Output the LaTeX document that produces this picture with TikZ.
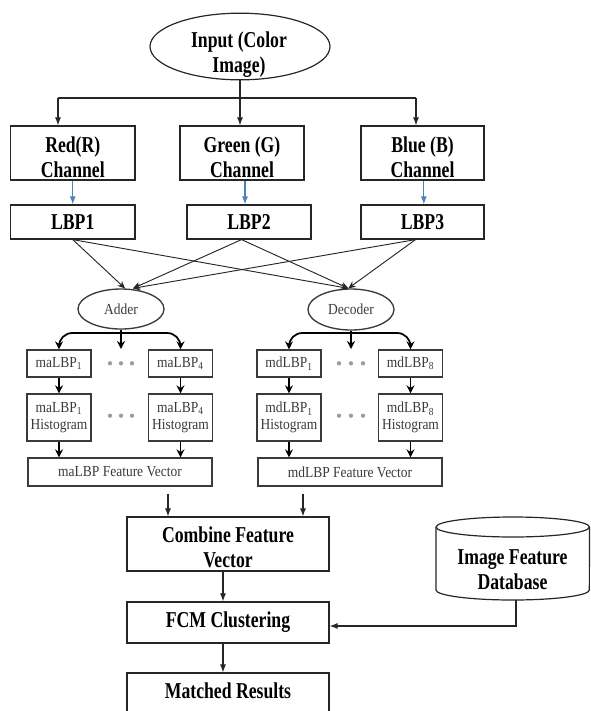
\documentclass[tikz,border=0pt]{standalone}
\usepackage{fontspec}
\setmainfont{Liberation Serif}
\newfontfamily\condbold[FakeStretch=0.78]{Liberation Serif}
\newfontfamily\condreg[FakeStretch=0.88]{Liberation Serif}
\usetikzlibrary{arrows.meta,shapes.geometric}

\definecolor{linkblue}{HTML}{4F81BD}
\definecolor{dotgray}{HTML}{9C9C9C}
\definecolor{ink}{HTML}{262626}
\definecolor{softink}{HTML}{3A3A3A}

\tikzset{
  bfont/.style={font=\condbold\bfseries\fontsize{17}{18.75}\selectfont},
  rfont/.style={font=\condreg\fontsize{11.5}{12.75}\selectfont, text=softink},
  topbox/.style={draw=ink, line width=0.9pt, rectangle, inner sep=0pt,
    minimum height=40.5pt},
  lbpbox/.style={topbox, minimum height=25.5pt, bfont},
  lowbox/.style={topbox, minimum width=151.5pt, bfont},
  btxt/.style={bfont, align=center, inner sep=0pt},
  oval/.style={draw=softink, line width=1pt, ellipse, inner sep=0pt,
    minimum width=64.5pt, minimum height=30pt, rfont},
  smallbox/.style={draw=softink, line width=1pt, rectangle, inner sep=0pt,
    minimum width=48pt, minimum height=20.25pt, rfont},
  histbox/.style={smallbox, minimum height=35.25pt, align=center},
  fvbox/.style={smallbox, minimum width=138pt, minimum height=21pt},
  ln/.style={draw=ink, line width=0.8pt},
  arr/.style={ln, -{Latex[length=6pt,width=4.5pt]}},
  barr/.style={draw=linkblue, line width=0.8pt, -{Latex[length=6pt,width=4.5pt]}},
  xarr/.style={draw=ink, line width=0.7pt, -{Stealth[length=5.5pt,width=5pt]}},
  br/.style={draw=black, line width=1.3pt, -{Stealth[length=6pt,width=6pt]}},
  dot/.style={fill=dotgray},
}

\begin{document}
\begin{tikzpicture}[x=0.75pt, y=-0.75pt]
\useasboundingbox (0,0) rectangle (590,711);
\clip (0,0) rectangle (590,711);

% ---- input and colour channels
\node[draw=ink, line width=0.9pt, ellipse, inner sep=0pt,
      minimum width=135pt, minimum height=50pt] (input) at (240,46.5) {};
\node[btxt] (inputt) at (239,55) {Input (Color\\Image)};

\node[topbox, minimum width=93.4pt] (red) at (72.75,153) {};
\node[btxt] (redt) at (72.75,157.6) {Red(R)\\Channel};
\node[topbox, minimum width=93pt] (green) at (242,153) {};
\node[btxt] (greent) at (242,157.6) {Green (G)\\Channel};
\node[topbox, minimum width=92.25pt] (blue) at (422.5,153) {};
\node[btxt] (bluet) at (422.5,157.6) {Blue (B)\\Channel};

\node[lbpbox, minimum width=93.4pt] (lbp1) at (72.75,222) {LBP1};
\node[lbpbox, minimum width=93pt] (lbp2) at (249,222) {LBP2};
\node[lbpbox, minimum width=92.25pt] (lbp3) at (422.5,222) {LBP3};

% input fan-out
\coordinate (busl) at (58,98);
\coordinate (busr) at (416,98);
\draw[ln] (input.south) -- (input.south |- busl);
\draw[ln] (busl) -- (busr);
\draw[arr] (busl) -- (busl |- red.north);
\draw[arr] (input.south |- busl) -- (input.south |- green.north);
\draw[arr] (busr) -- (busr |- blue.north);

% channel to LBP
\coordinate (gs) at ([xshift=2.25pt]green.south);
\draw[barr] (red.south) -- (red.south |- lbp1.north);
\draw[barr] (gs) -- (gs |- lbp2.north);
\draw[barr] ([xshift=1pt]blue.south) -- ([xshift=1pt]blue.south |- lbp3.north);

% ---- adder / decoder
\node[oval] (adder) at (121,309) {Adder};
\node[oval, minimum height=30.75pt] (decoder) at (351,309.5) {Decoder};

\coordinate (l2) at ([xshift=-5.6pt]lbp2.south);
\coordinate (l3) at ([xshift=-5.25pt]lbp3.south);
\coordinate (ain1) at ([xshift=3pt]adder.north);
\coordinate (ain2) at ([xshift=9pt]adder.north);
\coordinate (din) at ([xshift=-2pt]decoder.north);
\draw[xarr] (lbp1.south) -- (ain1);
\draw[xarr] (lbp1.south) -- (din);
\draw[xarr] (l2) -- (ain2);
\draw[xarr] (l2) -- (din);
\draw[xarr] (l3) -- (ain2);
\draw[xarr] (l3) -- (din);

% ---- maLBP branch
\node[smallbox] (ma1) at (59,363.5) {maLBP\textsubscript{1}};
\node[smallbox] (ma4) at (180.5,363.5) {maLBP\textsubscript{4}};
\node[histbox] (mah1) at (59,417.5) {maLBP\textsubscript{1}\\Histogram};
\node[histbox] (mah4) at (180.5,417.5) {maLBP\textsubscript{4}\\Histogram};
\node[fvbox] (mafv) at (120,472) {maLBP Feature Vector};

\coordinate (abus) at (121,333);
\coordinate (amid) at (121,349);
\draw[br] (adder.south) -- (amid);
\draw[br, rounded corners=10pt] (abus) -| (ma1.north);
\draw[br, rounded corners=10pt] (abus) -| (ma4.north);
\draw[br] (ma1) -- (mah1);
\draw[br] (ma4) -- (mah4);
\draw[br] (mah1.south) -- (mah1.south |- mafv.north);
\draw[br] (mah4.south) -- (mah4.south |- mafv.north);
\foreach \px in {110,121,132} {
  \fill[dot] (\px,363.3) circle (1.6pt);
  \fill[dot] (\px,415.7) circle (1.6pt);
}

% ---- mdLBP branch
\node[smallbox] (md1) at (289,363.5) {mdLBP\textsubscript{1}};
\node[smallbox] (md8) at (410.5,363.5) {mdLBP\textsubscript{8}};
\node[histbox] (mdh1) at (289,417.5) {mdLBP\textsubscript{1}\\Histogram};
\node[histbox] (mdh8) at (410.5,417.5) {mdLBP\textsubscript{8}\\Histogram};
\node[fvbox] (mdfv) at (350,472) {mdLBP Feature Vector};

\coordinate (dbus) at (351,333);
\coordinate (dmid) at (351,349);
\draw[br] (decoder.south) -- (dmid);
\draw[br, rounded corners=10pt] (dbus) -| (md1.north);
\draw[br, rounded corners=10pt] (dbus) -| (md8.north);
\draw[br] (md1) -- (mdh1);
\draw[br] (md8) -- (mdh8);
\draw[br] (mdh1.south) -- (mdh1.south |- mdfv.north);
\draw[br] (mdh8.south) -- (mdh8.south |- mdfv.north);
\foreach \px in {339,351,363} {
  \fill[dot] (\px,363.3) circle (1.6pt);
  \fill[dot] (\px,415.7) circle (1.6pt);
}

% ---- combination and clustering
\node[lowbox] (comb) at (228,544) {};
\node[btxt] (combt) at (228,547.7) {Combine Feature\\Vector};
\node[lowbox, minimum height=30.75pt] (fcm) at (228,622.5) {FCM Clustering};
\node[lowbox, minimum height=36pt] (match) at (228,697) {};
\node[btxt] (matcht) at (228,690.3) {Matched Results};

\coordinate (fa) at ([xshift=36pt,yshift=-5.25pt]mafv.south);
\coordinate (fd) at ([xshift=-35.25pt,yshift=-5.25pt]mdfv.south);
\draw[arr] (fa) -- (fa |- comb.north);
\draw[arr] (fd) -- (fd |- comb.north);
\coordinate (cf) at ([xshift=-3.75pt]comb.south);
\draw[arr] (cf) -- (cf |- fcm.north);
\coordinate (fm) at ([xshift=-3.75pt]fcm.south);
\draw[arr] (fm) -- (fm |- match.north);

% ---- feature database cylinder
\draw[ln, line width=0.9pt] (512.75,527) ellipse [x radius=57.5pt, y radius=7.5pt];
\draw[ln, line width=0.9pt] (436,527) -- (436,590)
  arc [start angle=180, end angle=360, x radius=57.5pt, y radius=7.5pt]
  -- (589.5,527);
\node[btxt] (dbt) at (512.5,570) {Image Feature\\Database};
\coordinate (dbbot) at (516,600);
\draw[arr] (dbbot) |- ([yshift=-2.6pt]fcm.east);

\end{tikzpicture}
\end{document}
